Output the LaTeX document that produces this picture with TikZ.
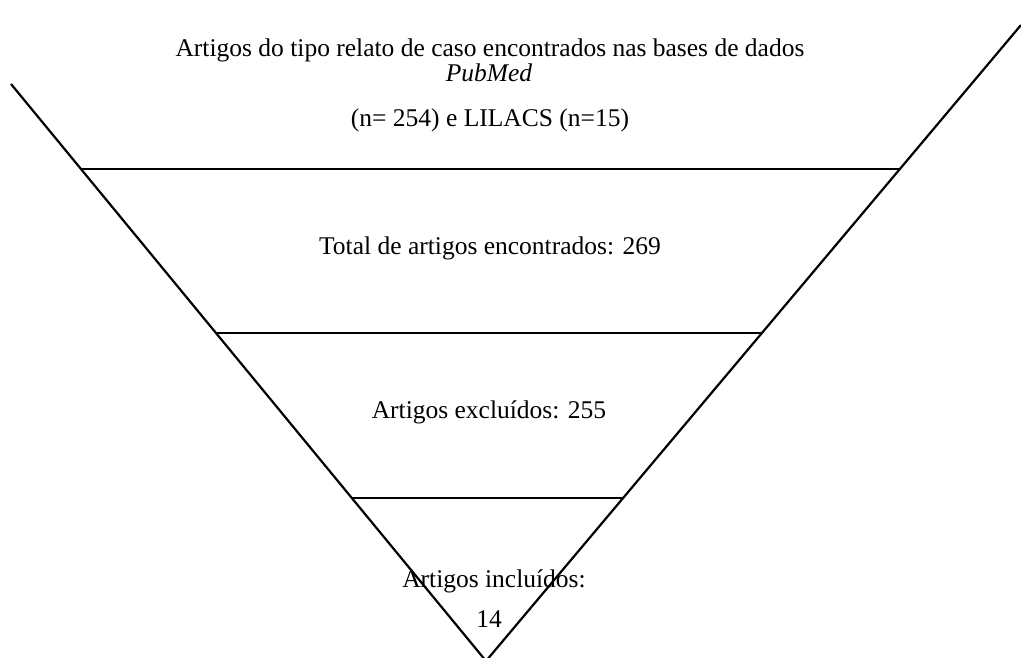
\documentclass[tikz,border=0pt]{standalone}
\usepackage{fontspec}
\setmainfont{Liberation Serif}
\begin{document}
\begin{tikzpicture}[x=1pt,y=-1pt,
  funnel/.style={line width=2.2pt, line join=miter},
  lbl/.style={anchor=base, inner sep=0pt, font=\fontsize{25.5}{30}\selectfont}]
\useasboundingbox (0,0) rectangle (1021,657);
\clip (0,0) rectangle (1021,657);
\coordinate (lt) at (11,84);
\coordinate (rt) at (1021,25);
\coordinate (ap) at (486,661);
\coordinate (l1) at (81,169);  \coordinate (r1) at (900,169);
\coordinate (l2) at (216,333); \coordinate (r2) at (762,333);
\coordinate (l3) at (352,498); \coordinate (r3) at (623,498);
\draw[funnel] (lt) -- (ap) -- (rt);
\draw[funnel] (l1) -- (r1);
\draw[funnel] (l2) -- (r2);
\draw[funnel] (l3) -- (r3);
\node[lbl] (t1) at (490,56) {Artigos do tipo relato de caso encontrados nas bases de dados};
\node[lbl] (t2) at (489,81) {\itshape PubMed};
\node[lbl] (t3) at (490,126) {(n= 254) e LILACS (n=15)};
\node[lbl] (t4) at (490,254) {Total de artigos encontrados: 269};
\node[lbl] (t5) at (489,418) {Artigos excluídos: 255};
\node[lbl] (t6) at (494,587) {Artigos incluídos:};
\node[lbl] (t7) at (489,627) {14};
\end{tikzpicture}
\end{document}
